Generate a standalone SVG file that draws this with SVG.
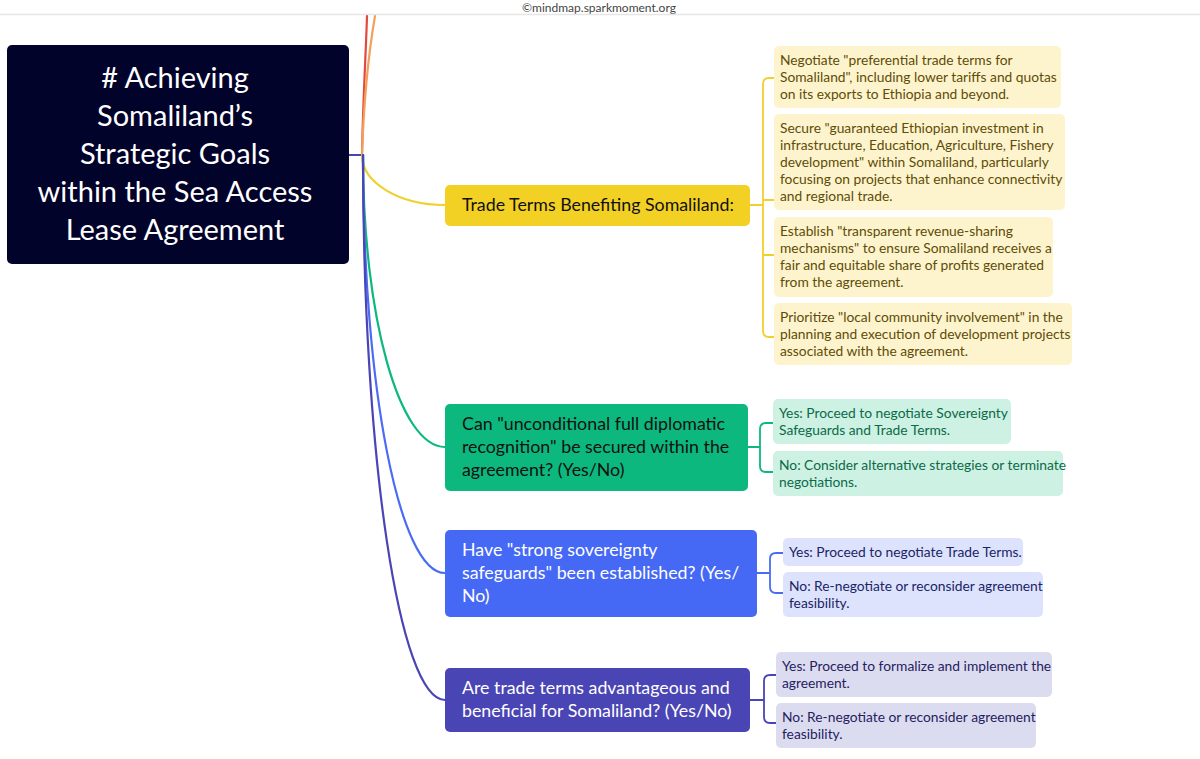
<svg xmlns="http://www.w3.org/2000/svg" width="1200" height="759" viewBox="0 0 1200 759">
<style>
text{font-family:Lato,"Open Sans","Liberation Sans",sans-serif}
.root{font-size:29px;fill:#ffffff;text-anchor:middle}
.main{font-size:17.8px}
.sub{font-size:13.8px}
.c{fill:none;stroke-width:2.2;stroke-linecap:round}
.b{fill:none;stroke-width:1.8;stroke-linecap:round;stroke-linejoin:round}
</style>
<rect width="1200" height="759" fill="#ffffff"/>
<text x="599" y="11.5" font-size="12" fill="#444" text-anchor="middle">©mindmap.sparkmoment.org</text>
<line x1="0" y1="14.5" x2="1200" y2="14.5" stroke="#e6e6e6" stroke-width="1.5"/>

<g id="connectors">
  <path class="c" d="M362,155 C363,100 366,50 367,16" stroke="#e5483e"/>
  <path class="c" d="M362,155 C364,95 370,45 375,16" stroke="#f2a15a"/>
  <path class="c" d="M349,155 L363,155 L363,170" stroke="#4a45b5"/>
  <path class="c" d="M362,155 C362,182.6 399,205 445,205" stroke="#f0d02c"/>
  <path class="c" d="M363,155 C363,316 399,447 445,447" stroke="#0cb87d"/>
  <path class="c" d="M363,155 C363,386 399,573 445,573" stroke="#4a6cf5"/>
  <path class="c" d="M363,155 C363,456 399,700 445,700" stroke="#4a45b5"/>
  <path class="b" stroke="#f0d02c" d="M750,205 H763 M774,78 H769 Q763,78 763,84 V331 Q763,337 769,337 H774 M763,200 H774 M763,255 H774"/>
  <path class="b" stroke="#0cb87d" d="M748,447 H760 M773,423 H766 Q760,423 760,429 V466 Q760,472 766,472 H773"/>
  <path class="b" stroke="#4a6cf5" d="M757,573 H770 M783,553 H776 Q770,553 770,559 V587 Q770,593 776,593 H783"/>
  <path class="b" stroke="#4a45b5" d="M750,700 H764 M776,675 H770 Q764,675 764,681 V717 Q764,723 770,723 H776"/>
</g>

<g id="root">
  <rect x="7" y="45" width="342" height="219" rx="5" fill="#02032a"/>
  <text class="root" x="175" y="88"># Achieving</text>
  <text class="root" x="175" y="126">Somaliland’s</text>
  <text class="root" x="175" y="164">Strategic Goals</text>
  <text class="root" x="175" y="202">within the Sea Access</text>
  <text class="root" x="175" y="240">Lease Agreement</text>
</g>

<g id="trade">
  <rect x="445" y="185" width="305" height="41" rx="5" fill="#f2d024"/>
  <text class="main" x="462" y="211" fill="#111">Trade Terms Benefiting Somaliland:</text>
</g>
<g id="trade-1">
  <rect x="774" y="46" width="287" height="62" rx="5" fill="#fdf4cd"/>
  <text class="sub" fill="#5e4c08"><tspan x="780" y="65">Negotiate "preferential trade terms for</tspan><tspan x="780" y="82">Somaliland", including lower tariffs and quotas</tspan><tspan x="780" y="99">on its exports to Ethiopia and beyond.</tspan></text>
</g>
<g id="trade-2">
  <rect x="774" y="114" width="291" height="96" rx="5" fill="#fdf4cd"/>
  <text class="sub" fill="#5e4c08"><tspan x="780" y="133">Secure "guaranteed Ethiopian investment in</tspan><tspan x="780" y="150">infrastructure, Education, Agriculture, Fishery</tspan><tspan x="780" y="167">development" within Somaliland, particularly</tspan><tspan x="780" y="184">focusing on projects that enhance connectivity</tspan><tspan x="780" y="201">and regional trade.</tspan></text>
</g>
<g id="trade-3">
  <rect x="774" y="217" width="279" height="80" rx="5" fill="#fdf4cd"/>
  <text class="sub" fill="#5e4c08"><tspan x="780" y="236">Establish "transparent revenue-sharing</tspan><tspan x="780" y="253">mechanisms" to ensure Somaliland receives a</tspan><tspan x="780" y="270">fair and equitable share of profits generated</tspan><tspan x="780" y="287">from the agreement.</tspan></text>
</g>
<g id="trade-4">
  <rect x="774" y="303" width="298" height="62" rx="5" fill="#fdf4cd"/>
  <text class="sub" fill="#5e4c08"><tspan x="780" y="322">Prioritize "local community involvement" in the</tspan><tspan x="780" y="339">planning and execution of development projects</tspan><tspan x="780" y="356">associated with the agreement.</tspan></text>
</g>

<g id="recognition">
  <rect x="445" y="404" width="303" height="87" rx="5" fill="#0cb87d"/>
  <text class="main" fill="#111"><tspan x="462" y="430">Can "unconditional full diplomatic</tspan><tspan x="462" y="453">recognition" be secured within the</tspan><tspan x="462" y="476">agreement? (Yes/No)</tspan></text>
</g>
<g id="recognition-yes">
  <rect x="773" y="399" width="238" height="45" rx="5" fill="#cdf1e3"/>
  <text class="sub" fill="#0b6a48"><tspan x="779" y="418">Yes: Proceed to negotiate Sovereignty</tspan><tspan x="779" y="435">Safeguards and Trade Terms.</tspan></text>
</g>
<g id="recognition-no">
  <rect x="773" y="451" width="290" height="45" rx="5" fill="#cdf1e3"/>
  <text class="sub" fill="#0b6a48"><tspan x="779" y="470">No: Consider alternative strategies or terminate</tspan><tspan x="779" y="487">negotiations.</tspan></text>
</g>

<g id="sovereignty">
  <rect x="445" y="530" width="312" height="87" rx="5" fill="#4569f5"/>
  <text class="main" fill="#ffffff"><tspan x="462" y="556">Have "strong sovereignty</tspan><tspan x="462" y="579">safeguards" been established? (Yes/</tspan><tspan x="462" y="602">No)</tspan></text>
</g>
<g id="sovereignty-yes">
  <rect x="783" y="538" width="240" height="28" rx="5" fill="#dde3fd"/>
  <text class="sub" fill="#1b2466" x="789" y="557">Yes: Proceed to negotiate Trade Terms.</text>
</g>
<g id="sovereignty-no">
  <rect x="783" y="572" width="260" height="45" rx="5" fill="#dde3fd"/>
  <text class="sub" fill="#1b2466"><tspan x="789" y="591">No: Re-negotiate or reconsider agreement</tspan><tspan x="789" y="608">feasibility.</tspan></text>
</g>

<g id="trade-check">
  <rect x="445" y="668" width="305" height="64" rx="5" fill="#4a45b5"/>
  <text class="main" fill="#ffffff"><tspan x="462" y="694">Are trade terms advantageous and</tspan><tspan x="462" y="717">beneficial for Somaliland? (Yes/No)</tspan></text>
</g>
<g id="trade-check-yes">
  <rect x="776" y="652" width="276" height="45" rx="5" fill="#dcdcf1"/>
  <text class="sub" fill="#25215e"><tspan x="782" y="671">Yes: Proceed to formalize and implement the</tspan><tspan x="782" y="688">agreement.</tspan></text>
</g>
<g id="trade-check-no">
  <rect x="776" y="703" width="260" height="45" rx="5" fill="#dcdcf1"/>
  <text class="sub" fill="#25215e"><tspan x="782" y="722">No: Re-negotiate or reconsider agreement</tspan><tspan x="782" y="739">feasibility.</tspan></text>
</g>
</svg>
